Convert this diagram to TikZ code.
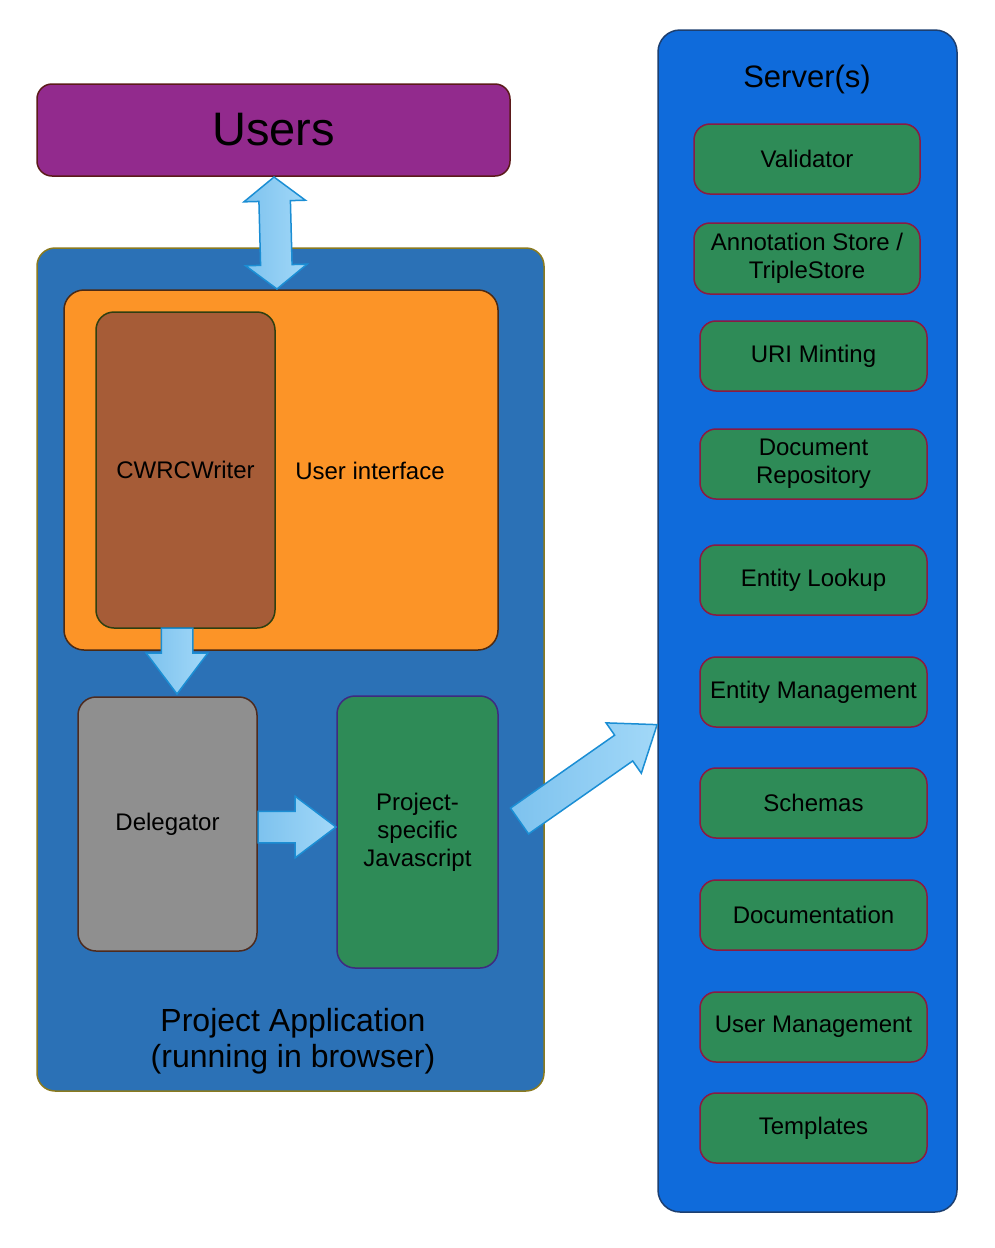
\documentclass[tikz,border=0pt]{standalone}
\usepackage{fontspec}
\setmainfont{Liberation Sans}
\usetikzlibrary{shapes.arrows,calc}
\definecolor{usersfill}{HTML}{922A8D}
\definecolor{usersdraw}{HTML}{5B1A1A}
\definecolor{appfill}{HTML}{2B71B6}
\definecolor{appdraw}{HTML}{8A7A1F}
\definecolor{uifill}{HTML}{FC9427}
\definecolor{uidraw}{HTML}{4B2A14}
\definecolor{cwrcfill}{HTML}{A65C37}
\definecolor{cwrcdraw}{HTML}{2F3F11}
\definecolor{delfill}{HTML}{8F8F8F}
\definecolor{deldraw}{HTML}{4E2B1E}
\definecolor{greenfill}{HTML}{2E8B57}
\definecolor{jsdraw}{HTML}{3F2A80}
\definecolor{srvfill}{HTML}{0F6BDB}
\definecolor{srvdraw}{HTML}{1D3F70}
\definecolor{itemdraw}{HTML}{8B1A42}
\definecolor{arrowL}{HTML}{7DC2EE}
\definecolor{arrowR}{HTML}{A2D8F8}
\definecolor{arrowdraw}{HTML}{1B8ED4}
\begin{document}
\begin{tikzpicture}[x=1pt,y=-1pt,
  box/.style={draw, line width=1.5pt, inner sep=0pt, outer sep=0pt, align=center},
  lbl/.style={font=\fontsize{24}{28}\selectfont, align=center, inner sep=0pt},
  item/.style={box, fill=greenfill, draw=itemdraw, rounded corners=16pt,
     minimum width=227pt, minimum height=70pt, font=\fontsize{24}{28}\selectfont},
  blockarrow/.style={draw=arrowdraw, line width=1.5pt, left color=arrowL, right color=arrowR,
     inner sep=15pt, outer sep=0pt},
  sarrow/.style={blockarrow, single arrow, single arrow head extend=15pt, single arrow tip angle=74},
]
\useasboundingbox (0,0) rectangle (994,1248);

% Users
\node[box, fill=usersfill, draw=usersdraw, rounded corners=15pt, minimum width=473pt,
  minimum height=92pt, font=\fontsize{47}{50}\selectfont] (users) at (273.5,130) {Users};

% Project application
\node[box, fill=appfill, draw=appdraw, rounded corners=18pt, minimum width=507pt,
  minimum height=843pt] (app) at (290.5,669.5) {};
\node[inner sep=0pt, align=center, font=\fontsize{32}{36}\selectfont] (applbl) at (293,1041)
  {Project Application\\(running in browser)};

% User interface
\node[box, fill=uifill, draw=uidraw, rounded corners=20pt, minimum width=434pt,
  minimum height=360pt] (ui) at (281,470) {};
\node[lbl] (uilbl) at (370,471) {User interface};

% CWRCWriter
\node[box, fill=cwrcfill, draw=cwrcdraw, rounded corners=18pt, minimum width=179pt,
  minimum height=316pt, font=\fontsize{24}{28}\selectfont] (cwrc) at (185.5,470) {CWRCWriter};

% Delegator
\node[box, fill=delfill, draw=deldraw, rounded corners=18pt, minimum width=179pt,
  minimum height=254pt, font=\fontsize{24}{28}\selectfont] (del) at (167.5,824) {Delegator};

% Project-specific Javascript
\node[box, fill=greenfill, draw=jsdraw, rounded corners=18pt, minimum width=161pt,
  minimum height=272pt, font=\fontsize{24}{28}\selectfont] (js) at (417.5,832)
  {Project-\\specific\\Javascript};

% Servers
\node[box, fill=srvfill, draw=srvdraw, rounded corners=22pt, minimum width=299pt,
  minimum height=1182pt] (srv) at (807.5,621) {};
\node[inner sep=0pt, font=\fontsize{31}{36}\selectfont] (srvlbl) at (807,79) {Server(s)};

\node[item, minimum width=226pt] (validator) at (807,159) {Validator};
\node[item, minimum width=226pt, minimum height=71pt] (annot) at (807,258.5) {Annotation Store /\\TripleStore};
\node[item] (uri) at (813.5,356) {URI Minting};
\node[item] (docrepo) at (813.5,464) {Document\\Repository};
\node[item] (lookup) at (813.5,580) {Entity Lookup};
\node[item] (emgmt) at (813.5,692) {Entity Management};
\node[item] (schemas) at (813.5,803) {Schemas};
\node[item] (docu) at (813.5,915) {Documentation};
\node[item] (umgmt) at (813.5,1027) {User Management};
\node[item] (templ) at (813.5,1128) {Templates};

% Arrows
\node[blockarrow, double arrow, double arrow head extend=15pt, double arrow tip angle=104,
  minimum height=112pt, shape border rotate=90, rotate=1.5] (a1)
  at (275.5,233) {};
\node[sarrow, minimum height=66pt, shape border rotate=270, anchor=tail] (a2)
  at (177,628) {};
\node[sarrow, minimum height=78pt, anchor=tail] (a3)
  at (258,827) {};
\node[sarrow, minimum height=168pt, rotate=35, anchor=tail] (a4)
  at (519.5,821) {};
\end{tikzpicture}
\end{document}
